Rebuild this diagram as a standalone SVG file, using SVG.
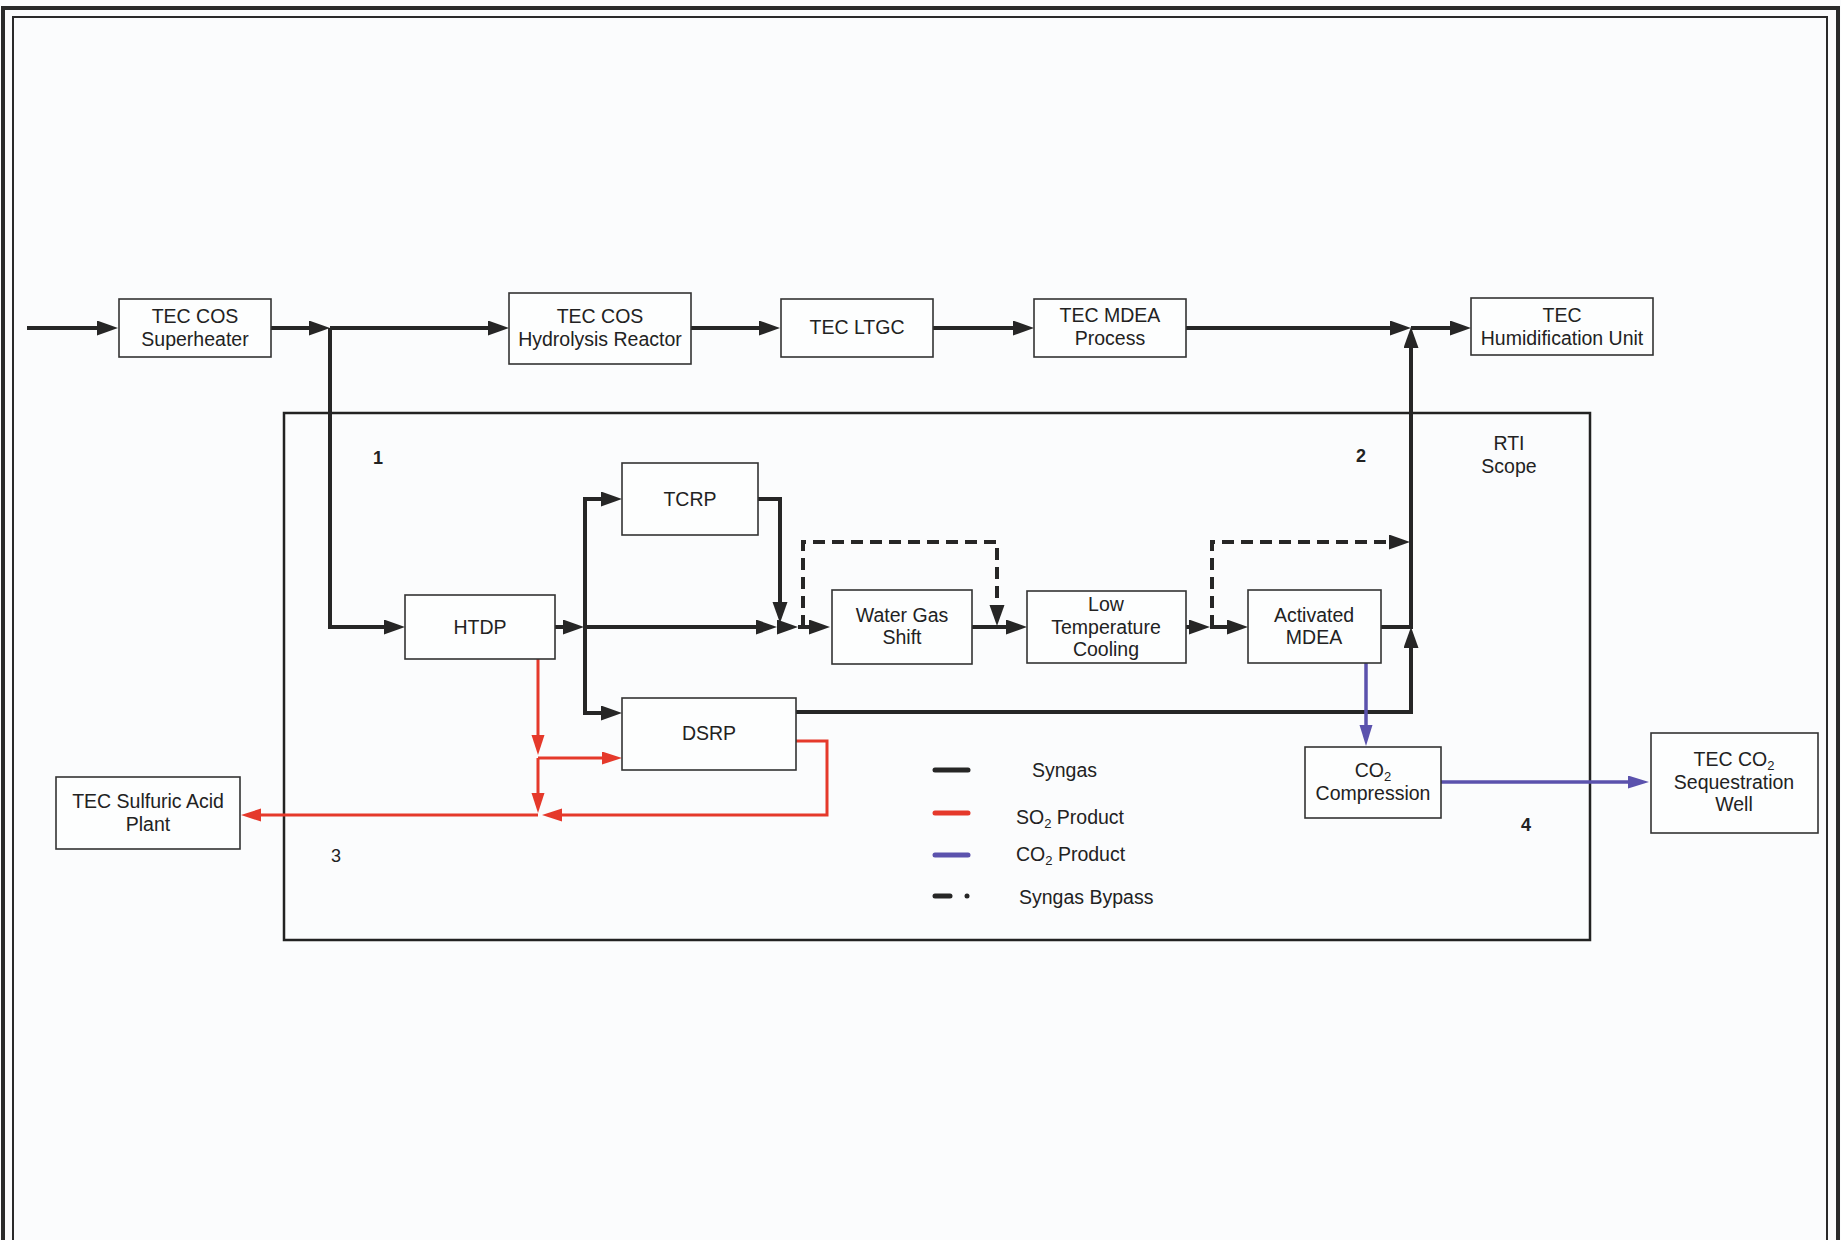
<svg xmlns="http://www.w3.org/2000/svg" width="1841" height="1240" viewBox="0 0 1841 1240">
<defs>
<style>
.box{fill:#fdfefe;stroke:#333;stroke-width:1.6}
.t{font-family:"Liberation Sans",Arial,sans-serif;font-size:19.5px;fill:#222;text-anchor:middle}
.n{font-family:"Liberation Sans",Arial,sans-serif;font-size:18px;fill:#222;text-anchor:middle}
.lg{font-family:"Liberation Sans",Arial,sans-serif;font-size:19.5px;fill:#222}
.syn{fill:none;stroke:#262626;stroke-width:4;marker-end:url(#ab)}
.byp{fill:none;stroke:#262626;stroke-width:4;stroke-dasharray:12 7;marker-end:url(#ab)}
.so2{fill:none;stroke:#e5392b;stroke-width:3;marker-end:url(#ar)}
.co2{fill:none;stroke:#5b52ad;stroke-width:3.5;marker-end:url(#ap)}
</style>
<marker id="ab" markerUnits="userSpaceOnUse" markerWidth="22" markerHeight="16" refX="11" refY="7.5" orient="auto"><path d="M0,0 L21,7.5 L0,15 z" fill="#262626"/></marker>
<marker id="ar" markerUnits="userSpaceOnUse" markerWidth="22" markerHeight="16" refX="10" refY="6.5" orient="auto"><path d="M0,0 L20,6.5 L0,13 z" fill="#e5392b"/></marker>
<marker id="ap" markerUnits="userSpaceOnUse" markerWidth="22" markerHeight="16" refX="11" refY="6.5" orient="auto"><path d="M0,0 L21,6.5 L0,13 z" fill="#5b52ad"/></marker>
</defs>
<rect x="0" y="0" width="1841" height="1240" fill="#fbfcfd"/>
<g id="frame" fill="none" stroke="#2a2a2a">
<rect x="3" y="8" width="1835" height="1260" stroke-width="4"/>
<rect x="13" y="17" width="1814" height="1250" stroke-width="2"/>
</g>
<g id="rti-scope">
<rect x="284" y="413" width="1306" height="527" fill="none" stroke="#222" stroke-width="2.5"/>
<text class="t" x="1509" y="450">RTI</text>
<text class="t" x="1509" y="473">Scope</text>
</g>
<g id="labels">
<text class="n" x="378" y="464" font-weight="bold">1</text>
<text class="n" x="1361" y="462" font-weight="bold">2</text>
<text class="n" x="336" y="862">3</text>
<text class="n" x="1526" y="831" font-weight="bold">4</text>
</g>
<g id="connectors">
<path class="syn" d="M27,328 H108"/>
<path class="syn" d="M271,328 H320"/>
<path class="syn" d="M330,328 H499"/>
<path class="syn" d="M330,328 V627 H395"/>
<path class="syn" d="M691,328 H770"/>
<path class="syn" d="M933,328 H1024"/>
<path class="syn" d="M1186,328 H1401"/>
<path class="syn" d="M1411,328 H1461"/>
<path class="syn" d="M555,627 H574"/>
<path class="syn" d="M585,627 V499 H612"/>
<path class="syn" d="M585,627 V713 H612"/>
<path class="syn" d="M585,627 H767"/>
<path class="syn" d="M777,627 H788"/>
<path class="syn" d="M798,627 H820"/>
<path class="syn" d="M758,499 H780 V613"/>
<path class="syn" d="M972,627 H1017"/>
<path class="syn" d="M1186,627 H1200"/>
<path class="syn" d="M1210,627 H1238"/>
<path class="syn" d="M1381,627 H1411 V337"/>
<path class="syn" d="M796,712 H1411 V637"/>
<path class="byp" d="M803,627 V542 H997 V616"/>
<path class="byp" d="M1212,627 V542 H1400"/>
<path class="so2" d="M538,659 V745"/>
<path class="so2" d="M538,758 H612"/>
<path class="so2" d="M538,758 V803"/>
<path class="so2" d="M538,815 H251"/>
<path class="so2" d="M796,741 H827 V815 H552"/>
<path class="co2" d="M1366,663 V736"/>
<path class="co2" d="M1441,782 H1639"/>
</g>
<g id="superheater"><rect class="box" x="119" y="299" width="152" height="58"/><text class="t" x="195" y="323">TEC COS</text><text class="t" x="195" y="346">Superheater</text></g>
<g id="hydrolysis"><rect class="box" x="509" y="293" width="182" height="71"/><text class="t" x="600" y="323">TEC COS</text><text class="t" x="600" y="346">Hydrolysis Reactor</text></g>
<g id="ltgc"><rect class="box" x="781" y="299" width="152" height="58"/><text class="t" x="857" y="334">TEC LTGC</text></g>
<g id="mdea-process"><rect class="box" x="1034" y="299" width="152" height="58"/><text class="t" x="1110" y="322">TEC MDEA</text><text class="t" x="1110" y="345">Process</text></g>
<g id="humidification"><rect class="box" x="1471" y="298" width="182" height="57"/><text class="t" x="1562" y="322">TEC</text><text class="t" x="1562" y="345">Humidification Unit</text></g>
<g id="tcrp"><rect class="box" x="622" y="463" width="136" height="72"/><text class="t" x="690" y="506">TCRP</text></g>
<g id="htdp"><rect class="box" x="405" y="595" width="150" height="64"/><text class="t" x="480" y="634">HTDP</text></g>
<g id="dsrp"><rect class="box" x="622" y="698" width="174" height="72"/><text class="t" x="709" y="740">DSRP</text></g>
<g id="wgs"><rect class="box" x="832" y="590" width="140" height="74"/><text class="t" x="902" y="622">Water Gas</text><text class="t" x="902" y="644">Shift</text></g>
<g id="ltc"><rect class="box" x="1027" y="591" width="159" height="72"/><text class="t" x="1106" y="611">Low</text><text class="t" x="1106" y="634">Temperature</text><text class="t" x="1106" y="656">Cooling</text></g>
<g id="activated-mdea"><rect class="box" x="1248" y="590" width="133" height="73"/><text class="t" x="1314" y="622">Activated</text><text class="t" x="1314" y="644">MDEA</text></g>
<g id="co2-compression"><rect class="box" x="1305" y="747" width="136" height="71"/><text class="t" x="1373" y="777">CO<tspan font-size="13" dy="4">2</tspan></text><text class="t" x="1373" y="800">Compression</text></g>
<g id="sequestration"><rect class="box" x="1651" y="733" width="167" height="100"/><text class="t" x="1734" y="766">TEC CO<tspan font-size="13" dy="4">2</tspan></text><text class="t" x="1734" y="789">Sequestration</text><text class="t" x="1734" y="811">Well</text></g>
<g id="sulfuric"><rect class="box" x="56" y="777" width="184" height="72"/><text class="t" x="148" y="808">TEC Sulfuric Acid</text><text class="t" x="148" y="831">Plant</text></g>
<g id="legend">
<path d="M935,770 H968" stroke="#262626" stroke-width="5" stroke-linecap="round"/>
<text class="lg" x="1032" y="777">Syngas</text>
<path d="M935,813 H968" stroke="#e5392b" stroke-width="5" stroke-linecap="round"/>
<text class="lg" x="1016" y="824">SO<tspan font-size="13" dy="4">2</tspan><tspan dy="-4"> Product</tspan></text>
<path d="M935,855 H968" stroke="#5b52ad" stroke-width="5" stroke-linecap="round"/>
<text class="lg" x="1016" y="861">CO<tspan font-size="13" dy="4">2</tspan><tspan dy="-4"> Product</tspan></text>
<path d="M935,896 H950" stroke="#262626" stroke-width="5" stroke-linecap="round"/>
<circle cx="967" cy="896" r="2.5" fill="#262626"/>
<text class="lg" x="1019" y="904">Syngas Bypass</text>
</g>
</svg>
